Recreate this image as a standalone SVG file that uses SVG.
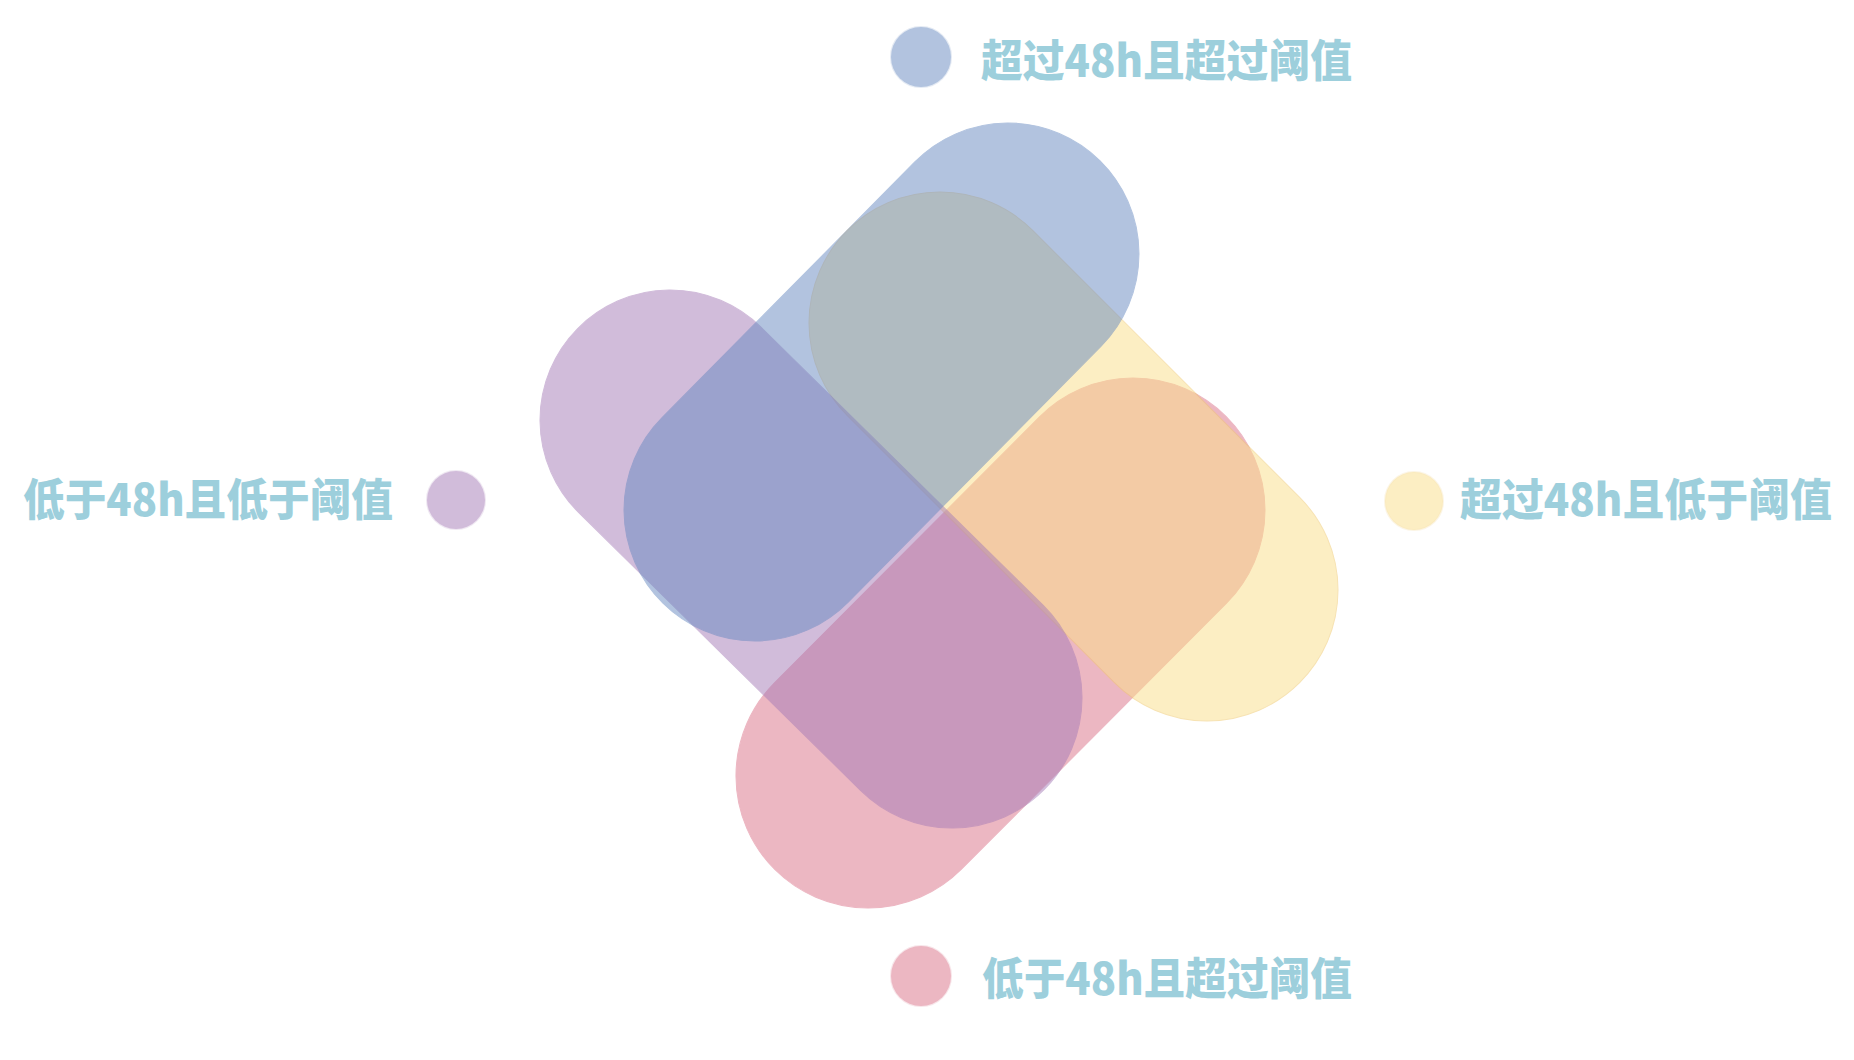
<svg xmlns="http://www.w3.org/2000/svg" width="1854" height="1060" viewBox="0 0 1854 1060">
  <style>
    .petal { opacity: 0.5; }
    .dot { opacity: 0.5; stroke-width: 2; stroke-opacity: 0.35; }
    .label { font-family: "Noto Sans CJK SC", "Noto Sans", sans-serif; font-weight: 900; font-size: 44px; fill: #9DCFDC; }
    .blue { fill: #6789C1; stroke: #6789C1; }
    .yellow { fill: #FBDF89; stroke: #F0C86A; }
    .pink { fill: #DB7187; stroke: #DB7187; }
    .purple { fill: #A57BB7; stroke: #A57BB7; }
  </style>
  <rect width="1854" height="1060" fill="#FFFFFF"/>
  <g id="petals">
    <rect id="petal-pink" class="petal pink" stroke="none" x="680.75" y="511" width="639.5" height="264" rx="132" ry="132" transform="rotate(-45.1 1000.5 643)"/>
    <rect id="petal-yellow" class="petal yellow" stroke="none" x="753.7" y="325.5" width="639.6" height="262" rx="131" ry="131" transform="rotate(45 1073.5 456.5)"/>
    <rect id="petal-purple" class="petal purple" stroke="none" x="483" y="429" width="656" height="260" rx="130" ry="130" transform="rotate(44.59 811 559)"/>
    <rect id="petal-blue" class="petal blue" stroke="none" x="570.55" y="251" width="621.9" height="262" rx="131" ry="131" transform="rotate(-45.34 881.5 382)"/>
  </g>
  <g id="legend-top">
    <circle class="dot blue" cx="921" cy="57" r="30"/>
    <text class="label" x="981" y="77" textLength="371" lengthAdjust="spacingAndGlyphs">超过48h且超过阈值</text>
  </g>
  <g id="legend-left">
    <circle class="dot purple" cx="456" cy="500" r="29"/>
    <text class="label" x="23" y="516" textLength="370" lengthAdjust="spacingAndGlyphs">低于48h且低于阈值</text>
  </g>
  <g id="legend-right">
    <circle class="dot yellow" cx="1414" cy="501" r="29"/>
    <text class="label" x="1460" y="516" textLength="372" lengthAdjust="spacingAndGlyphs">超过48h且低于阈值</text>
  </g>
  <g id="legend-bottom">
    <circle class="dot pink" cx="921" cy="976" r="30"/>
    <text class="label" x="982" y="995" textLength="370" lengthAdjust="spacingAndGlyphs">低于48h且超过阈值</text>
  </g>
  <g id="connectors"/>
</svg>
